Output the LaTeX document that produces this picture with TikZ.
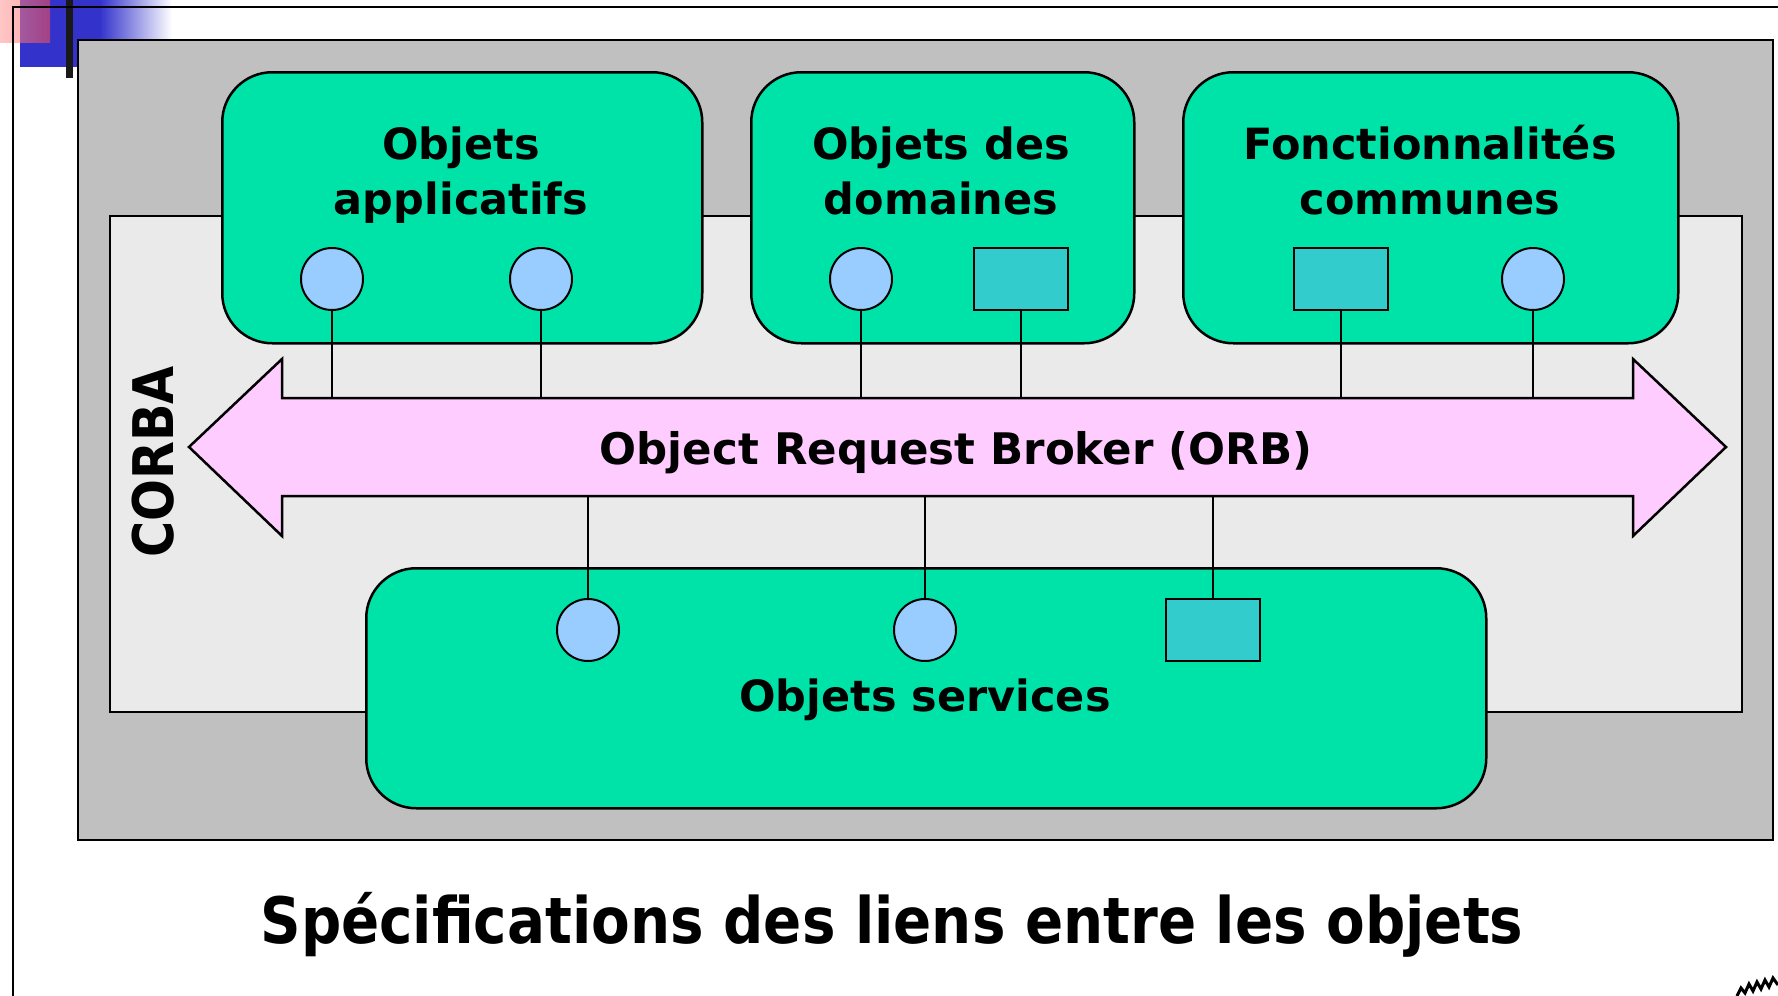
\documentclass[tikz,border=0pt]{standalone}
\usepackage{fontspec}
\newfontfamily\tah[FakeStretch=0.88]{DejaVu Sans Bold}
\newfontfamily\tahw{DejaVu Sans Bold}
\definecolor{grn}{HTML}{00E3A8}
\definecolor{lblue}{HTML}{99CCFF}
\definecolor{teal2}{HTML}{33CCCC}
\definecolor{pnk}{HTML}{FFCCFF}
\definecolor{gry}{HTML}{C0C0C0}
\definecolor{lgry}{HTML}{EAEAEA}
\definecolor{dblue}{HTML}{3333CC}
\tikzset{
  greenbox/.style={draw=black, line width=2.5pt, fill=grn, rounded corners=50pt},
  port/.style={circle, draw=black, line width=2pt, fill=lblue, minimum size=62pt, inner sep=0pt},
  sqport/.style={rectangle, draw=black, line width=2.5pt, fill=teal2, minimum width=94pt, minimum height=62pt, inner sep=0pt},
  link/.style={draw=black, line width=2pt},
  lbl/.style={font=\tahw\fontsize{43}{52}\selectfont, inner sep=0pt, anchor=base}
}
\begin{document}
\begin{tikzpicture}[x=1pt,y=-1pt]
\useasboundingbox (0,0) rectangle (1778,996);
\fill[white] (0,0) rectangle (1778,996);
% decoration top-left
\fill[dblue] (20,0) rectangle (100,67);
\shade[left color=dblue, right color=white] (100,0) rectangle (172,67);
\shade[left color=red!40, right color=red!70, opacity=0.55] (0,0) rectangle (50,42);
\fill[black!90] (66,0) rectangle (73,78);
% frame
\draw[line width=2.5pt] (13,996) -- (13,7) -- (1778,7);
% gray panels
\node[draw=black, line width=2pt, fill=gry, minimum width=1695pt, minimum height=800pt, anchor=north west, inner sep=0pt] (outer) at (77,39) {};
\node[draw=black, line width=2pt, fill=lgry, minimum width=1632pt, minimum height=496pt, anchor=north west, inner sep=0pt] (inner) at (109,215) {};
% green boxes
\node[greenbox, minimum width=480pt, minimum height=271pt, anchor=north west] (b1) at (221,71) {};
\node[greenbox, minimum width=383pt, minimum height=271pt, anchor=north west] (b2) at (750,71) {};
\node[greenbox, minimum width=495pt, minimum height=271pt, anchor=north west] (b3) at (1182,71) {};
\node[greenbox, minimum width=1120pt, minimum height=240pt, anchor=north west] (b4) at (365,567) {};
% ORB arrow
\coordinate (st) at (0,398);
\coordinate (sb) at (0,496);
\filldraw[fill=pnk, draw=black, line width=2.5pt]
  (189,447) -- (282,359) -- (282,398) -- (1633,398) -- (1633,359) -- (1726,447)
  -- (1633,536) -- (1633,496) -- (282,496) -- (282,536) -- cycle;
\node[lbl, font=\tahw\fontsize{43.5}{52}\selectfont] (orb) at (956,464) {Object Request Broker (ORB)};
% texts in boxes
\node[lbl] (t1a) at (461,159) {Objets};
\node[lbl] (t1b) at (461,214) {applicatifs};
\node[lbl] (t2a) at (941,159) {Objets des};
\node[lbl] (t2b) at (941,214) {domaines};
\node[lbl] (t3a) at (1430,159) {Fonctionnalités};
\node[lbl] (t3b) at (1430,214) {communes};
\node[lbl] (t4) at (925,711) {Objets services};
% ports
\node[port] (p1) at (332,279) {};
\node[port] (p2) at (541,279) {};
\node[port] (p3) at (861,279) {};
\node[sqport] (q1) at (1021,279) {};
\node[sqport] (q2) at (1341,279) {};
\node[port] (p4) at (1533,279) {};
\node[port] (p5) at (588,630) {};
\node[port] (p6) at (925,630) {};
\node[sqport] (q3) at (1213,630) {};
% links
\foreach \n in {p1,p2,p3,q1,q2,p4} { \draw[link] (\n.south) -- (\n.south |- st); }
\foreach \n in {p5,p6,q3} { \draw[link] (\n.north) -- (\n.north |- sb); }
% CORBA
\node[font=\tah\fontsize{56}{60}\selectfont, rotate=90, inner sep=0pt] (corba) at (153,462) {CORBA};
% title
\node[font=\tah\fontsize{64}{70}\selectfont, inner sep=0pt, anchor=base] (title) at (892,943) {Spécifications des liens entre les objets};
% zigzag mark bottom right
\draw[line width=3pt, line join=miter] (1737,996) -- (1741,988) -- (1745,993) -- (1749,984) -- (1753,991) -- (1757,982) -- (1761,989) -- (1765,980) -- (1769,987) -- (1773,978) -- (1778,985);
\end{tikzpicture}
\end{document}
